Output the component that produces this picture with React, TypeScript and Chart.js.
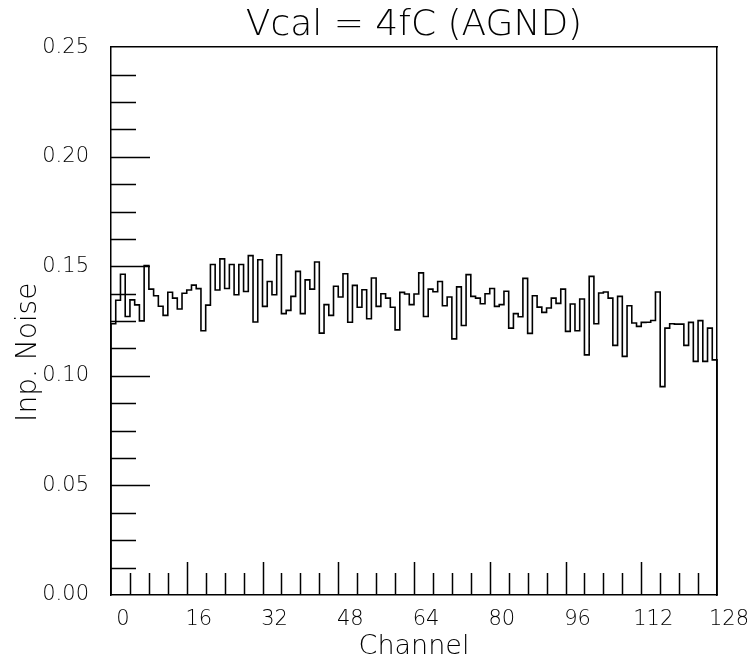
import { useEffect, useRef } from 'react';
import { Chart, registerables } from 'chart.js';

Chart.register(...registerables);

const TITLE = 'Vcal = 4fC (AGND)';
const X_TITLE = 'Channel';
const Y_TITLE = 'Inp. Noise';

const X_MIN = 0;
const X_MAX = 128;
const X_LABEL_STEP = 16;
const X_MINOR_STEP = 4;

const Y_MIN = 0;
const Y_MAX = 0.25;
const Y_LABEL_STEP = 0.05;
const Y_MINOR_STEP = 0.0125;

// input noise per channel (channels 0..127)
const noise0 = [0.1238, 0.1345, 0.1464, 0.1271, 0.1347, 0.1324, 0.1251, 0.1503, 0.1396, 0.1366, 0.1318, 0.1276, 0.1382, 0.1355, 0.1305, 0.1377];
const noise1 = [0.1392, 0.1414, 0.1398, 0.1206, 0.1323, 0.1508, 0.1392, 0.1534, 0.1399, 0.1508, 0.1370, 0.1508, 0.1385, 0.1549, 0.1246, 0.1530];
const noise2 = [0.1317, 0.1431, 0.1370, 0.1553, 0.1284, 0.1299, 0.1363, 0.1477, 0.1284, 0.1438, 0.1396, 0.1520, 0.1195, 0.1325, 0.1276, 0.1409];
const noise3 = [0.1360, 0.1466, 0.1245, 0.1413, 0.1313, 0.1393, 0.1261, 0.1447, 0.1317, 0.1375, 0.1355, 0.1313, 0.1210, 0.1381, 0.1374, 0.1325];
const noise4 = [0.1374, 0.1470, 0.1271, 0.1396, 0.1384, 0.1431, 0.1320, 0.1360, 0.1169, 0.1406, 0.1230, 0.1462, 0.1363, 0.1355, 0.1329, 0.1375];
const noise5 = [0.1399, 0.1317, 0.1325, 0.1386, 0.1218, 0.1284, 0.1270, 0.1445, 0.1194, 0.1366, 0.1314, 0.1290, 0.1310, 0.1355, 0.1331, 0.1396];
const noise6 = [0.1203, 0.1328, 0.1206, 0.1351, 0.1096, 0.1454, 0.1238, 0.1378, 0.1383, 0.1355, 0.1139, 0.1363, 0.1089, 0.1320, 0.1241, 0.1226];
const noise7 = [0.1244, 0.1245, 0.1253, 0.1383, 0.0951, 0.1218, 0.1238, 0.1236, 0.1236, 0.1139, 0.1244, 0.1066, 0.1252, 0.1066, 0.1218, 0.1073];

const noise = [...noise0, ...noise1, ...noise2, ...noise3, ...noise4, ...noise5, ...noise6, ...noise7];

const FONT = 'DejaVu Sans';
const WEIGHT = 300;
const INK = '#000000';

// ROOT-style inward tick marks (minor / major), positioned through the chart's scales
const innerTicks = {
  id: 'innerTicks',
  afterDatasetsDraw(chart: any) {
    const { ctx, chartArea: a, scales } = chart;
    const x = scales.x;
    const y = scales.y;
    ctx.save();
    ctx.strokeStyle = INK;
    ctx.lineWidth = 1.5;
    ctx.beginPath();
    const nx = Math.round((X_MAX - X_MIN) / X_MINOR_STEP);
    const perX = X_LABEL_STEP / X_MINOR_STEP;
    for (let k = 1; k < nx; k++) {
      const v = X_MIN + k * X_MINOR_STEP;
      const px = Math.round(x.getPixelForValue(v)) + 0.5;
      const len = k % perX === 0 ? 33 : 22;
      ctx.moveTo(px, a.bottom);
      ctx.lineTo(px, a.bottom - len);
    }
    const ny = Math.round((Y_MAX - Y_MIN) / Y_MINOR_STEP);
    const perY = Math.round(Y_LABEL_STEP / Y_MINOR_STEP);
    for (let k = 1; k < ny; k++) {
      const v = Y_MIN + k * Y_MINOR_STEP;
      const py = Math.round(y.getPixelForValue(v)) + 0.5;
      const len = k % perY === 0 ? 39 : 25;
      ctx.moveTo(a.left, py);
      ctx.lineTo(a.left + len, py);
    }
    ctx.stroke();
    ctx.restore();
  },
};

export default function App() {
  const canvasRef = useRef<HTMLCanvasElement | null>(null);

  useEffect(() => {
    document.body.style.margin = '0';
    const canvas = canvasRef.current;
    if (!canvas) return;

    const points: { x: number; y: number }[] = [{ x: X_MIN, y: 0 }];
    noise.forEach((v, i) => points.push({ x: X_MIN + i, y: v }));
    points.push({ x: X_MIN + noise.length, y: 0 });

    const chart = new Chart(canvas, {
      type: 'line',
      data: {
        datasets: [
          {
            data: points,
            stepped: 'before',
            borderColor: INK,
            borderWidth: 1.6,
            pointRadius: 0,
            fill: false,
            borderJoinStyle: 'miter',
            clip: false,
          } as any,
        ],
      },
      plugins: [innerTicks],
      options: {
        animation: false,
        responsive: false,
        devicePixelRatio: 1,
        parsing: false,
        normalized: true,
        events: [],
        layout: { padding: { left: 0, right: 30, top: 0, bottom: 0 }, autoPadding: false },
        plugins: {
          legend: { display: false },
          tooltip: { enabled: false },
          title: {
            display: true,
            text: TITLE,
            fullSize: false,
            color: INK,
            font: { family: FONT, size: 36, weight: WEIGHT, lineHeight: 1.2 },
            padding: { top: 4, bottom: 0 },
          },
        },
        scales: {
          x: {
            type: 'linear',
            position: 'bottom',
            min: X_MIN,
            max: X_MAX,
            afterFit: (s: any) => { s.height = 65; },
            grid: { display: false },
            border: { display: true, color: INK, width: 1.5 },
            ticks: {
              stepSize: X_LABEL_STEP,
              autoSkip: false,
              maxRotation: 0,
              labelOffset: 12,
              padding: 4,
              color: INK,
              font: { family: FONT, size: 21, weight: WEIGHT },
              callback: (v: any) => String(v),
            },
            title: {
              display: true,
              text: X_TITLE,
              color: INK,
              font: { family: FONT, size: 27, weight: WEIGHT, lineHeight: 1 },
              padding: { top: 0, bottom: 0 },
            },
          },
          xTop: {
            type: 'linear',
            position: 'top',
            min: X_MIN,
            max: X_MAX,
            afterFit: (s: any) => { s.height = 0; },
            grid: { display: false },
            border: { display: true, color: INK, width: 1.5 },
            ticks: { display: false },
          },
          y: {
            type: 'linear',
            position: 'left',
            min: Y_MIN,
            max: Y_MAX,
            afterFit: (s: any) => { s.width = 111; },
            grid: { display: false },
            border: { display: true, color: INK, width: 1.5 },
            ticks: {
              stepSize: Y_LABEL_STEP,
              padding: 14,
              color: INK,
              font: { family: FONT, size: 21, weight: WEIGHT },
              callback: (v: any) => Number(v).toFixed(2),
            },
            title: {
              display: true,
              text: Y_TITLE + '       ',
              color: INK,
              font: { family: FONT, size: 28, weight: WEIGHT, lineHeight: 1.2 },
              padding: { top: 12, bottom: 0 },
            },
          },
          yRight: {
            type: 'linear',
            position: 'right',
            min: Y_MIN,
            max: Y_MAX,
            afterFit: (s: any) => { s.width = 0; },
            grid: { display: false },
            border: { display: true, color: INK, width: 1.5 },
            ticks: { display: false },
          },
        },
      },
    });

    return () => chart.destroy();
  }, []);

  return (
    <div style={{ width: 747, height: 660 }}>
      <canvas ref={canvasRef} width={747} height={660} style={{ display: 'block' }} />
    </div>
  );
}
